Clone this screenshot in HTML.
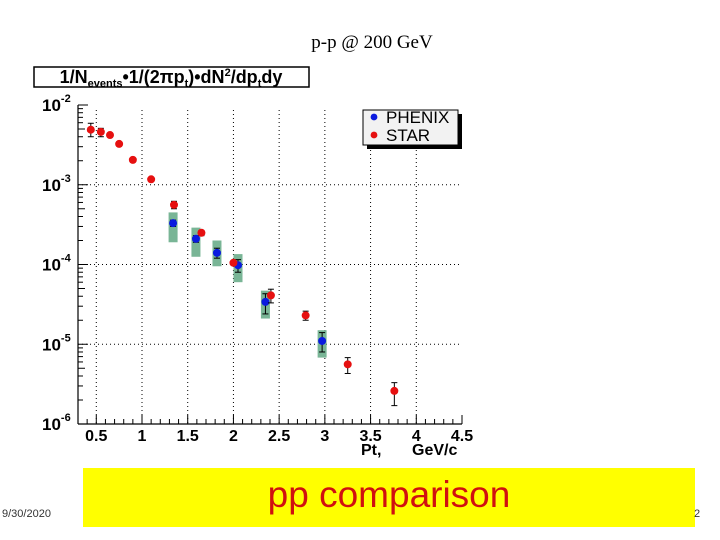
<!DOCTYPE html>
<html><head><meta charset="utf-8"><style>
body{margin:0;background:#fff;width:720px;height:540px;overflow:hidden;position:relative;font-family:"Liberation Sans",sans-serif}
.t{position:absolute}
</style></head><body>
<div class="t" style="left:272px;top:32px;width:200px;text-align:center;font-family:'Liberation Serif',serif;font-size:19px">p-p @ 200 GeV</div>
<svg id="chart" width="720" height="470" style="position:absolute;left:0;top:0" font-family="Liberation Sans, sans-serif"></svg>
<div class="t" style="left:83px;top:468px;width:612px;height:59px;background:#ffff00"></div>
<div class="t" style="left:83px;top:474px;width:612px;text-align:center;color:#d01010;font-size:37px">pp comparison</div>
<div class="t" style="left:2px;top:508px;font-size:11px;color:#333">9/30/2020</div>
<div class="t" style="left:694px;top:508px;font-size:11px;color:#333">2</div>
<script>
const starX=[0.44,0.55,0.65,0.75,0.90,1.10,1.35,1.65,2.0,2.41,2.79,3.25,3.76];
const starY=[4.9e-3,4.6e-3,4.2e-3,3.25e-3,2.05e-3,1.17e-3,5.6e-4,2.5e-4,1.05e-4,4.1e-5,2.3e-5,5.6e-6,2.6e-6];
const starLo=[4.0e-3,4.0e-3,4.2e-3,3.25e-3,2.05e-3,1.17e-3,5.0e-4,2.3e-4,1.0e-4,3.3e-5,2.0e-5,4.3e-6,1.7e-6];
const starHi=[5.9e-3,5.1e-3,4.2e-3,3.25e-3,2.05e-3,1.17e-3,6.2e-4,2.6e-4,1.1e-4,4.9e-5,2.6e-5,6.8e-6,3.3e-6];
const phxX=[1.34,1.59,1.82,2.05,2.35,2.97];
const phxY=[3.3e-4,2.1e-4,1.4e-4,9.8e-5,3.4e-5,1.1e-5];
const phxLo=[3.0e-4,1.9e-4,1.2e-4,8.0e-5,2.4e-5,8.0e-6];
const phxHi=[3.6e-4,2.3e-4,1.6e-4,1.15e-4,4.3e-5,1.4e-5];
const phxSysLo=[1.9e-4,1.25e-4,9.5e-5,6.0e-5,2.1e-5,6.8e-6];
const phxSysHi=[4.5e-4,2.9e-4,2.0e-4,1.35e-4,4.7e-5,1.5e-5];
const xTicks=[0.5,1,1.5,2,2.5,3,3.5,4,4.5];
const xTickLabels=["0.5","1","1.5","2","2.5","3","3.5","4","4.5"];
const yDecades=[-2,-3,-4,-5,-6];

const svg=document.getElementById('chart');
const NS='http://www.w3.org/2000/svg';
const X0=78,X1=462,Y0=105,Y1=424,xmin=0.3,xmax=4.5,lmax=-2,lmin=-6;
const sx=v=>X0+(v-xmin)/(xmax-xmin)*(X1-X0);
const sy=v=>Y0+(lmax-Math.log10(v))/(lmax-lmin)*(Y1-Y0);
function el(tag,attrs,parent){const e=document.createElementNS(NS,tag);for(const k in attrs)e.setAttribute(k,attrs[k]);(parent||svg).appendChild(e);return e;}

const tb=el('g',{});


el('rect',{x:34,y:67,width:275,height:20,fill:'#fff',stroke:'#000','stroke-width':1.5},tb);
const tt=el('text',{x:171,y:83,'text-anchor':'middle','font-size':18,'font-weight':'bold'},tb);
tt.innerHTML='1/N<tspan font-size="11" dy="4">events</tspan><tspan dy="-4">•1/(2πp</tspan><tspan font-size="11" dy="4">t</tspan><tspan dy="-4">)•dN</tspan><tspan font-size="11" dy="-7">2</tspan><tspan dy="7">/dp</tspan><tspan font-size="11" dy="4">t</tspan><tspan dy="-4">dy</tspan>';

xTicks.forEach(t=>{if(t<4.5){const l=el('line',{x1:sx(t),x2:sx(t),y1:Y0+5,y2:Y1,stroke:'#000','stroke-dasharray':'1,3','stroke-width':1});}});
yDecades.forEach(d=>{if(d>-6&&d<-2){const l=el('line',{x1:X0,x2:X1,y1:sy(10**d),y2:sy(10**d),stroke:'#000','stroke-dasharray':'1,3','stroke-width':1});}});

const xa=el('line',{x1:X0,x2:X1,y1:Y1,y2:Y1,stroke:'#000','stroke-width':1.2});

const ya=el('line',{x1:X0,x2:X0,y1:Y0,y2:Y1,stroke:'#000','stroke-width':1.2});

for(let i=3;i<=45;i++){const v=i/10;const maj=(i%5===0);el('line',{x1:sx(v),x2:sx(v),y1:Y1,y2:Y1-(maj?9:5),stroke:'#000'});}
xTicks.forEach((t,i)=>{const tx=el('text',{x:sx(t),y:Y1+17,'text-anchor':'middle','font-size':16,'font-weight':'bold'});tx.textContent=xTickLabels[i];});
yDecades.forEach(d=>{const y=sy(10**d);el('line',{x1:X0,x2:X0+10,y1:y,y2:y,stroke:'#000'});
 if(d>-6)for(let m=2;m<=9;m++){const yy=sy(m*10**(d-1));el('line',{x1:X0,x2:X0+(m===5?7:5),y1:yy,y2:yy,stroke:'#000'});}
 const tx=el('text',{x:42,y:y+6,'font-size':17,'font-weight':'bold'});tx.innerHTML='10<tspan font-size="11" dy="-9">'+d+'</tspan>';});
const xl=el('text',{x:361,y:455,'font-size':16,'font-weight':'bold'});xl.textContent='Pt,';
const xu=el('text',{x:412,y:455,'font-size':16,'font-weight':'bold'});xu.textContent='GeV/c';

phxX.forEach((x,i)=>{const r=el('rect',{x:sx(x)-4.5,y:sy(phxSysHi[i]),width:9,height:sy(phxSysLo[i])-sy(phxSysHi[i]),fill:'#79b596'});});
function pts(X,Y,L,H,col,name){X.forEach((x,i)=>{const cx=sx(x);
 if(sy(L[i])-sy(H[i])>3){el('line',{x1:cx,x2:cx,y1:sy(H[i]),y2:sy(L[i]),stroke:'#000'});el('line',{x1:cx-3,x2:cx+3,y1:sy(H[i]),y2:sy(H[i]),stroke:'#000'});el('line',{x1:cx-3,x2:cx+3,y1:sy(L[i]),y2:sy(L[i]),stroke:'#000'});}
 const c=el('circle',{cx:cx,cy:sy(Y[i]),r:4,fill:col});});}
pts(phxX,phxY,phxLo,phxHi,'#0a1adf','phenix-point');
pts(starX,starY,starLo,starHi,'#e61010','star-point');

const lg=el('g',{});
el('rect',{x:367,y:114,width:95,height:35,fill:'#000'},lg);
el('rect',{x:363,y:110,width:95,height:35,fill:'#f2f2f2',stroke:'#000'},lg);
el('circle',{cx:374,cy:117,r:3.4,fill:'#0a1adf'},lg);
el('circle',{cx:374,cy:135,r:3.4,fill:'#e61010'},lg);
const l1=el('text',{x:386,y:123,'font-size':17},lg);l1.textContent='PHENIX';
const l2=el('text',{x:386,y:141,'font-size':17},lg);l2.textContent='STAR';
</script>
</body></html>
